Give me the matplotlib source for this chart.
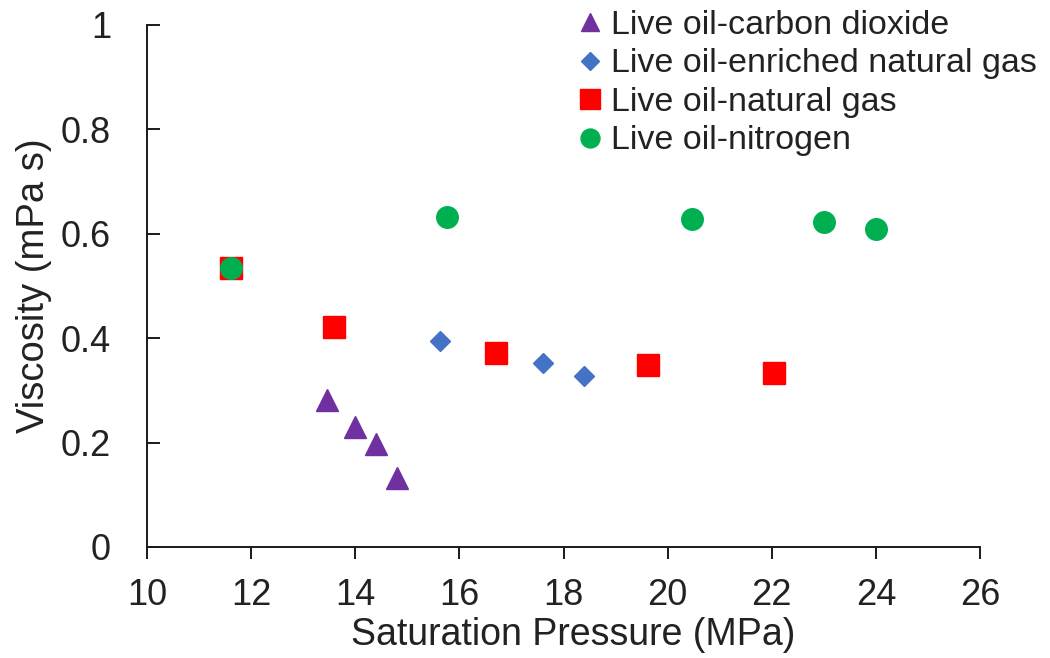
import matplotlib
matplotlib.use("Agg")
import matplotlib.pyplot as plt

plt.rcParams['font.family'] = ['Liberation Sans', 'DejaVu Sans']

# Data (Saturation pressure MPa, viscosity mPa s)
co2_x = [13.45, 14.0, 14.4, 14.8]
co2_y = [0.282, 0.230, 0.198, 0.132]

enr_x = [15.62, 17.6, 18.4]
enr_y = [0.395, 0.352, 0.327]

ng_x = [11.62, 13.6, 16.7, 19.62, 22.04]
ng_y = [0.535, 0.422, 0.372, 0.349, 0.334]

n2_x = [11.62, 15.77, 20.46, 23.0, 24.0]
n2_y = [0.535, 0.633, 0.628, 0.622, 0.610]

labels = ["Live oil-carbon dioxide", "Live oil-enriched natural gas",
          "Live oil-natural gas", "Live oil-nitrogen"]
x_ticks = [10, 12, 14, 16, 18, 20, 22, 24, 26]
y_ticks = [0, 0.2, 0.4, 0.6, 0.8, 1]
y_tick_labels = ["0", "0.2", "0.4", "0.6", "0.8", "1"]

W, H = 1050, 658
fig = plt.figure(figsize=(W / 100, H / 100), dpi=100)
ax = fig.add_axes([147 / W, 1 - 547 / H, (980 - 147) / W, (547 - 25) / H])

ax.plot(co2_x, co2_y, linestyle='none', marker='^', markersize=15.5,
        color='#7030A0', label=labels[0])
ax.plot(enr_x, enr_y, linestyle='none', marker='D', markersize=10,
        color='#4472C4', label=labels[1])
ax.plot(ng_x, ng_y, linestyle='none', marker='s', markersize=16,
        color='#FF0000', label=labels[2])
ax.plot(n2_x, n2_y, linestyle='none', marker='o', markersize=15.5,
        color='#00B050', label=labels[3])

ax.set_xlim(10, 26)
ax.set_ylim(0, 1)
ax.set_xticks(x_ticks)
ax.set_xticklabels([str(t) for t in x_ticks])
ax.set_yticks(y_ticks)
ax.set_yticklabels(y_tick_labels)

for s in ['top', 'right']:
    ax.spines[s].set_visible(False)
for s in ['left', 'bottom']:
    ax.spines[s].set_linewidth(1.4)
    ax.spines[s].set_color('#1a1a1a')

ax.tick_params(axis='x', direction='out', length=8.5, width=1.4,
               labelsize=26, pad=14, colors='#1a1a1a')
ax.tick_params(axis='y', direction='in', length=9, width=1.4,
               labelsize=26, pad=26, colors='#1a1a1a')
ax.tick_params(axis='both', labelcolor='#222222')

ax.set_xlabel("Saturation Pressure (MPa)", fontsize=27, color='#222222')
ax.set_ylabel("Viscosity (mPa s)", fontsize=27.5, color='#222222')
ax.xaxis.set_label_coords((573 - 147) / 833, (547 - 617) / 522)
ax.yaxis.set_label_coords((52 - 147) / 833, 0.5)

leg = fig.legend(loc='upper left', bbox_to_anchor=(577 / W, 1 - 10 / H),
                 frameon=False, fontsize=24.5, handlelength=0.75,
                 handletextpad=0.25, labelspacing=0.22, borderpad=0,
                 borderaxespad=0, markerscale=0.88)
for t in leg.get_texts():
    t.set_color('#222222')

fig.savefig("out.png", dpi=100)
